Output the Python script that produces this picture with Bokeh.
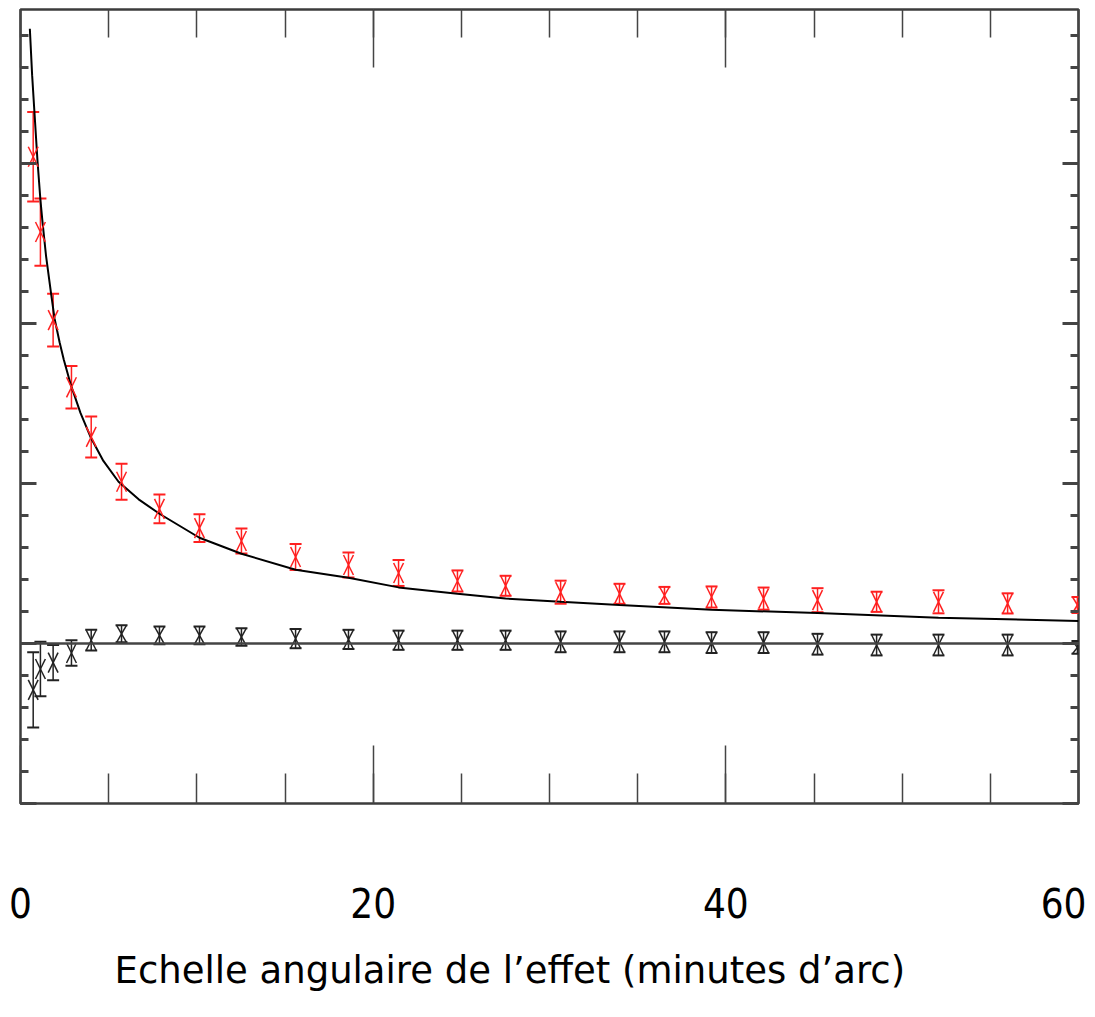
import numpy as np
from bokeh.plotting import figure
from bokeh.models import (ColumnDataSource, Whisker, TeeHead, Span, LinearAxis,
                          SingleIntervalTicker, Range1d, Title, CustomJSTickFormatter)
from bokeh.embed import file_html
from bokeh.resources import INLINE

# ---- data ----
theta = [0.72, 1.13, 1.85, 2.89, 4.01, 5.73, 7.88, 10.15, 12.53, 15.60, 18.60, 21.44,
         24.78, 27.51, 30.63, 33.97, 36.52, 39.19, 42.14, 45.20, 48.55, 52.06, 55.98, 59.94]
signal = [3.04, 2.57, 2.02, 1.60, 1.29, 1.01, 0.84, 0.72, 0.64, 0.54, 0.49, 0.44,
          0.39, 0.36, 0.32, 0.31, 0.30, 0.29, 0.28, 0.27, 0.26, 0.26, 0.25, 0.24]
signal_err = [0.28, 0.21, 0.165, 0.133, 0.128, 0.113, 0.09, 0.087, 0.078, 0.081, 0.078, 0.081,
              0.066, 0.0625, 0.072, 0.0625, 0.053, 0.066, 0.069, 0.075, 0.063, 0.072, 0.063, 0.05]
control = [-0.29, -0.16, -0.12, -0.06, 0.02, 0.06, 0.05, 0.05, 0.04, 0.03, 0.025, 0.02,
           0.02, 0.02, 0.01, 0.01, 0.01, 0.005, 0.005, -0.005, -0.01, -0.01, -0.01, -0.025]
control_err = [0.235, 0.17, 0.11, 0.08, 0.065, 0.053, 0.055, 0.055, 0.055, 0.06, 0.06, 0.06,
               0.06, 0.06, 0.065, 0.065, 0.065, 0.065, 0.065, 0.065, 0.065, 0.065, 0.065, 0.04]
model_theta = [0.53, 0.66, 0.79, 0.96, 1.13, 1.25, 1.45, 1.74, 1.93, 2.22, 2.46, 2.84, 3.40,
               3.97, 4.70, 5.56, 6.70, 7.88, 10.15, 12.53, 15.60, 18.60, 21.44, 24.78, 27.51,
               30.63, 33.97, 39.19, 45.20, 52.06, 60.0]
model = [3.84, 3.55, 3.32, 3.02, 2.77, 2.63, 2.42, 2.18, 2.03, 1.88, 1.77, 1.62, 1.44,
         1.29, 1.14, 1.01, 0.90, 0.81, 0.66, 0.56, 0.46, 0.41, 0.35, 0.31, 0.28,
         0.26, 0.24, 0.21, 0.19, 0.16, 0.14]
x_ticks_major = 20
x_ticks_minor = 5
xlabel = "Echelle angulaire de l\u2019effet (minutes d\u2019arc)"

# ---- figure ----
p = figure(width=1086, height=1017, x_range=Range1d(0, 60), y_range=Range1d(-1.0, 3.96),
           output_backend="svg", toolbar_location=None,
           min_border_left=20, min_border_right=8, min_border_top=9, min_border_bottom=214,
           x_axis_location=None, y_axis_location=None)
p.grid.visible = False
p.outline_line_color = "#3c3c3c"
p.outline_line_width = 2.5
p.background_fill_color = "white"
p.border_fill_color = "white"

xt = SingleIntervalTicker(interval=x_ticks_major, num_minor_ticks=x_ticks_major // x_ticks_minor)
yt = SingleIntervalTicker(interval=1, num_minor_ticks=5)
blank = CustomJSTickFormatter(code="return ''")

def style(ax, tin, tmin, tw):
    ax.axis_line_color = None
    ax.major_tick_in = tin
    ax.major_tick_out = 0
    ax.minor_tick_in = tmin
    ax.minor_tick_out = 0
    ax.major_tick_line_color = "#444444"
    ax.minor_tick_line_color = "#444444"
    ax.major_tick_line_width = tw
    ax.minor_tick_line_width = tw

bottom = LinearAxis(ticker=xt)
style(bottom, 58, 30, 1.5)
bottom.major_label_text_font = "DejaVu Sans Condensed"
bottom.major_label_text_font_size = "40px"
bottom.major_label_text_color = "black"
bottom.major_label_standoff = 84
p.add_layout(bottom, "below")

top = LinearAxis(ticker=xt, formatter=blank)
style(top, 58, 28, 1.5)
top.major_label_standoff = 0
p.add_layout(top, "above")

for side in ("left", "right"):
    ax = LinearAxis(ticker=yt, formatter=blank)
    style(ax, 16, 8, 3)
    ax.major_label_standoff = 0
    p.add_layout(ax, side)

t = Title(text=xlabel, align="left", offset=94, text_font="DejaVu Sans",
          text_font_size="37px", text_font_style="normal", text_color="black", standoff=52)
p.add_layout(t, "below")

p.add_layout(Span(location=0, dimension="width", line_color="#444444", line_width=2.5))

# model curve
p.line(model_theta, model, line_color="black", line_width=2)

def points(xs, ys, es, color):
    xs = np.array(xs); ys = np.array(ys); es = np.array(es)
    src = ColumnDataSource(dict(x=xs, lo=ys - es, hi=ys + es))
    w = Whisker(base="x", lower="lo", upper="hi", source=src, dimension="height",
                line_color=color, line_width=1.5,
                lower_head=TeeHead(size=12, line_color=color, line_width=2),
                upper_head=TeeHead(size=12, line_color=color, line_width=2))
    p.add_layout(w)
    h = np.minimum(es, 0.0625)
    dx = 0.28
    p.segment(xs - dx, ys - h, xs + dx, ys + h, line_color=color, line_width=1.5)
    p.segment(xs - dx, ys + h, xs + dx, ys - h, line_color=color, line_width=1.5)

points(theta, signal, signal_err, "#ff2020")
points(theta, control, control_err, "#222222")

open("out.html", "w").write(file_html(p, INLINE))
